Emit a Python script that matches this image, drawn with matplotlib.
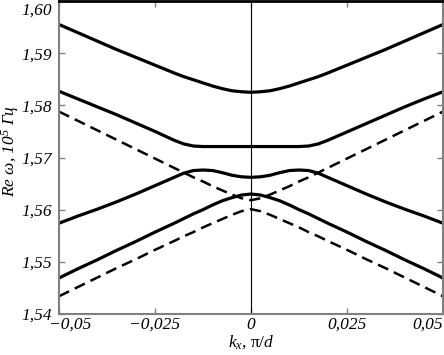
import numpy as np
import matplotlib
matplotlib.use("Agg")
import matplotlib.pyplot as plt
import matplotlib.transforms as mtransforms

plt.rcParams['font.family'] = ['Liberation Serif', 'DejaVu Serif']
plt.rcParams['mathtext.fontset'] = 'custom'
plt.rcParams['mathtext.it'] = 'Liberation Serif:italic'
plt.rcParams['mathtext.rm'] = 'Liberation Serif:italic'

# wave number kx (units of pi/d)
k = [-0.05, -0.045, -0.04, -0.035, -0.03, -0.025, -0.02, -0.0175, -0.015, -0.0125,
     -0.01, -0.0075, -0.005, -0.0025, 0.0, 0.0025, 0.005, 0.0075, 0.01, 0.0125,
     0.015, 0.0175, 0.02, 0.025, 0.03, 0.035, 0.04, 0.045, 0.05]

# solid branches (Re omega, 10^5)
band1 = [1.5955, 1.5939, 1.5923, 1.5907, 1.5892, 1.5877, 1.5862, 1.5855, 1.5849, 1.5843,
         1.5837, 1.5832, 1.5828, 1.5826, 1.5825, 1.5826, 1.5828, 1.5832, 1.5837, 1.5843,
         1.5849, 1.5855, 1.5862, 1.5877, 1.5892, 1.5907, 1.5923, 1.5939, 1.5955]
band2 = [1.5827, 1.5812, 1.5797, 1.5782, 1.5766, 1.5750, 1.5733, 1.5726, 1.5722, 1.5721,
         1.5721, 1.5721, 1.5721, 1.5721, 1.5721, 1.5721, 1.5721, 1.5721, 1.5721, 1.5721,
         1.5722, 1.5726, 1.5733, 1.5749, 1.5765, 1.5781, 1.5797, 1.5812, 1.5826]
band3 = [1.5574, 1.5588, 1.5601, 1.5615, 1.5630, 1.5646, 1.5662, 1.5670, 1.5675, 1.5676,
         1.5675, 1.5671, 1.5666, 1.5663, 1.5662, 1.5663, 1.5666, 1.5671, 1.5675, 1.5676,
         1.5675, 1.5670, 1.5662, 1.5646, 1.5630, 1.5615, 1.5601, 1.5588, 1.5574]
band4 = [1.5469, 1.5487, 1.5504, 1.5522, 1.5539, 1.5557, 1.5574, 1.5583, 1.5592, 1.5600,
         1.5609, 1.5617, 1.5623, 1.5628, 1.5630, 1.5628, 1.5623, 1.5617, 1.5609, 1.5600,
         1.5592, 1.5583, 1.5574, 1.5557, 1.5539, 1.5522, 1.5504, 1.5487, 1.5469]
# dashed branches
dash_up = [1.5788, 1.5770, 1.5752, 1.5734, 1.5716, 1.5698, 1.5680, 1.5671, 1.5662, 1.5654,
           1.5645, 1.5637, 1.5629, 1.5622, 1.5618, 1.5622, 1.5629, 1.5637, 1.5645, 1.5654,
           1.5662, 1.5671, 1.5680, 1.5698, 1.5716, 1.5734, 1.5752, 1.5770, 1.5788]
dash_lo = [1.5434, 1.5452, 1.5470, 1.5488, 1.5505, 1.5523, 1.5540, 1.5549, 1.5557, 1.5566,
           1.5574, 1.5582, 1.5590, 1.5597, 1.5601, 1.5597, 1.5590, 1.5582, 1.5574, 1.5566,
           1.5557, 1.5549, 1.5540, 1.5523, 1.5505, 1.5488, 1.5470, 1.5452, 1.5434]

xticks = [-0.05, -0.025, 0.0, 0.025, 0.05]
xticklabels = ['\u22120,05', '\u22120,025', '0', '0,025', '0,05']
yticks = [1.54, 1.55, 1.56, 1.57, 1.58, 1.59, 1.60]
yticklabels = ['1,54', '1,55', '1,56', '1,57', '1,58', '1,59', '1,60']

fig = plt.figure(figsize=(4.44, 3.55), dpi=100)
ax = fig.add_axes([59/444, 41/355, 384/444, 313/355])

for b in (band1, band2, band3, band4):
    ax.plot(k, b, color='black', lw=2.3, solid_capstyle='butt', solid_joinstyle='round')
for b in (dash_up, dash_lo):
    ax.plot(k, b, color='black', lw=1.8, dashes=(4.5, 2.5))

ax.axvline(0, color='black', lw=0.8)

ax.set_xlim(-0.05, 0.05)
ax.set_ylim(1.54, 1.60)
ax.set_xticks(xticks)
ax.set_xticklabels(xticklabels)
ax.set_yticks(yticks)
ax.set_yticklabels(yticklabels)

grey = '#808080'
for s in ('left', 'bottom', 'right'):
    ax.spines[s].set_color(grey)
    ax.spines[s].set_linewidth(1.5)
ax.spines['top'].set_color('black')
ax.spines['top'].set_linewidth(2)

ax.tick_params(direction='in', length=4, width=1, color=grey,
               top=True, right=True, labelsize=12.5)
ax.tick_params(axis='x', pad=2)
ax.tick_params(axis='y', pad=5)
for lab in ax.get_xticklabels() + ax.get_yticklabels():
    lab.set_fontstyle('italic')

xl = ax.get_xticklabels()
xl[0].set_transform(xl[0].get_transform() + mtransforms.ScaledTranslation(11/100, 0, fig.dpi_scale_trans))
xl[-1].set_transform(xl[-1].get_transform() + mtransforms.ScaledTranslation(-15/100, 0, fig.dpi_scale_trans))
yl = ax.get_yticklabels()
yl[-1].set_transform(yl[-1].get_transform() + mtransforms.ScaledTranslation(0, -8/100, fig.dpi_scale_trans))

ax.set_xlabel(r'$k_x$, π/$d$', fontsize=12.5, labelpad=0)
ax.set_ylabel('Re ω, 10$^5$ Гц', fontsize=12.5, fontstyle='italic')
ax.yaxis.set_label_coords(-0.098, 0.52)

fig.savefig('out.png', dpi=100)
